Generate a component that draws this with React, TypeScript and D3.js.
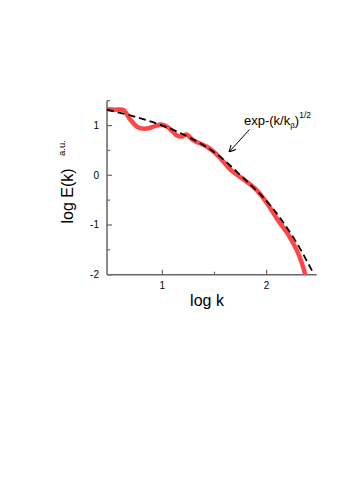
import { useEffect, useRef } from "react"
import * as d3 from "d3"

// red measured spectrum (log k, log E)
const measuredLogK = [0.47, 0.55, 0.63, 0.69, 0.77, 0.85, 0.93, 0.99, 1.07, 1.14, 1.19, 1.23, 1.30, 1.43, 1.54, 1.65, 1.79, 1.89, 2.00, 2.11, 2.21, 2.29, 2.34, 2.37]
const measuredLogE = [1.33, 1.32, 1.31, 1.13, 0.96, 0.94, 0.99, 1.02, 0.94, 0.80, 0.78, 0.82, 0.70, 0.57, 0.38, 0.12, -0.10, -0.27, -0.55, -0.91, -1.20, -1.51, -1.78, -2.0]

// dashed fit exp-(k/kb)^1/2
const fitLogK = [0.47, 0.75, 1.0, 1.25, 1.5, 1.75, 2.0, 2.15, 2.3, 2.45]
const fitLogE = [1.32, 1.17, 1.0, 0.77, 0.46, 0.0, -0.52, -0.92, -1.40, -1.98]

const xMajor = [1, 2]
const xMinor = [1.5]
const yMajor = [1, 0, -1, -2]
const yMinor = [1.5, 0.5, -0.5, -1.5]

export default function App() {
    const svgRef = useRef<SVGSVGElement>(null)

    useEffect(() => {
        const svg = d3.select(svgRef.current)
        svg.selectAll("*").remove()

        const font = "'Liberation Sans', Arial, sans-serif"
        const axisColor = "#666"

        const x = d3.scaleLinear().domain([0.47, 2.48]).range([107, 316.7])
        const y = d3.scaleLinear().domain([-2, 1.5]).range([274.7, 100.7])

        const g = svg.append("g")

        // axes lines
        g.append("line")
            .attr("x1", x(0.47)).attr("x2", x(2.48))
            .attr("y1", y(-2)).attr("y2", y(-2))
            .attr("stroke", axisColor).attr("stroke-width", 1.5)
        g.append("line")
            .attr("x1", x(0.47)).attr("x2", x(0.47))
            .attr("y1", y(-2)).attr("y2", y(1.5))
            .attr("stroke", axisColor).attr("stroke-width", 1.5)

        // x ticks (inside)
        g.selectAll(".xmaj").data(xMajor).join("line")
            .attr("x1", d => x(d)).attr("x2", d => x(d))
            .attr("y1", y(-2)).attr("y2", y(-2) - 5)
            .attr("stroke", axisColor).attr("stroke-width", 1.2)
        g.selectAll(".xmin").data(xMinor).join("line")
            .attr("x1", d => x(d)).attr("x2", d => x(d))
            .attr("y1", y(-2)).attr("y2", y(-2) - 3)
            .attr("stroke", axisColor).attr("stroke-width", 1.2)
        g.selectAll(".xlab").data(xMajor).join("text")
            .attr("x", d => x(d)).attr("y", y(-2) + 14)
            .attr("text-anchor", "middle")
            .style("font-family", font).style("font-size", "10px")
            .text(d => d3.format("d")(d))

        // y ticks (inside)
        g.selectAll(".ymaj").data(yMajor).join("line")
            .attr("x1", x(0.47)).attr("x2", x(0.47) + 5)
            .attr("y1", d => y(d)).attr("y2", d => y(d))
            .attr("stroke", axisColor).attr("stroke-width", 1.2)
        g.selectAll(".ymin").data(yMinor).join("line")
            .attr("x1", x(0.47)).attr("x2", x(0.47) + 3)
            .attr("y1", d => y(d)).attr("y2", d => y(d))
            .attr("stroke", axisColor).attr("stroke-width", 1.2)
        g.selectAll(".ylab").data(yMajor).join("text")
            .attr("x", 99).attr("y", d => y(d) + 3.5)
            .attr("text-anchor", "end")
            .style("font-family", font).style("font-size", "10px")
            .text(d => (d < 0 ? "-" + Math.abs(d) : String(d)))

        const line = d3.line<number>()
            .x((d, i) => x(measuredLogK[i]))
            .y(d => y(d))
            .curve(d3.curveCatmullRom.alpha(0.5))

        // red spectrum
        g.append("path")
            .attr("d", line(measuredLogE))
            .attr("fill", "none")
            .attr("stroke", "#ff4545")
            .attr("stroke-width", 4.5)
            .attr("stroke-linecap", "butt")

        const fitLine = d3.line<number>()
            .x((d, i) => x(fitLogK[i]))
            .y(d => y(d))
            .curve(d3.curveCatmullRom.alpha(0.5))

        // dashed fit
        g.append("path")
            .attr("d", fitLine(fitLogE))
            .attr("fill", "none")
            .attr("stroke", "#000")
            .attr("stroke-width", 1.8)
            .attr("stroke-dasharray", "7,4")

        // annotation arrow
        const defs = svg.append("defs")
        defs.append("marker")
            .attr("id", "arr")
            .attr("viewBox", "0 0 10 10")
            .attr("refX", 9).attr("refY", 5)
            .attr("markerWidth", 7).attr("markerHeight", 7)
            .attr("orient", "auto")
            .append("path")
            .attr("d", "M0,0 L10,5 L0,10")
            .attr("fill", "none")
            .attr("stroke", "#000")
            .attr("stroke-width", 1.5)
        g.append("line")
            .attr("x1", 249.5).attr("y1", 129.5)
            .attr("x2", 229.5).attr("y2", 151.5)
            .attr("stroke", "#000").attr("stroke-width", 1)
            .attr("marker-end", "url(#arr)")

        const ann = g.append("text")
            .attr("x", 244).attr("y", 125)
            .attr("fill", "#000")
            .style("font-family", font).style("font-size", "13px")
        ann.append("tspan").text("exp-(k/k")
        ann.append("tspan").attr("dy", 3).attr("fill", "#000").style("font-size", "8px").text("β")
        ann.append("tspan").attr("dy", -3).text(")")
        ann.append("tspan").attr("dy", -7).style("font-size", "8.5px").text("1/2")

        // axis titles
        g.append("text")
            .attr("x", 207).attr("y", 306)
            .attr("text-anchor", "middle")
            .style("font-family", font).style("font-size", "16px")
            .text("log k")

        g.append("text")
            .attr("transform", "translate(73,196) rotate(-90)")
            .attr("text-anchor", "middle")
            .style("font-family", font).style("font-size", "16px")
            .text("log E(k)")

        g.append("text")
            .attr("transform", "translate(65,148) rotate(-90)")
            .attr("text-anchor", "middle")
            .style("font-family", font).style("font-size", "9.5px")
            .text("a.u.")
    }, [])

    return (
        <svg ref={svgRef} width={349} height={500}
            style={{ position: "absolute", left: 0, top: 0, background: "#fff" }} />
    )
}
